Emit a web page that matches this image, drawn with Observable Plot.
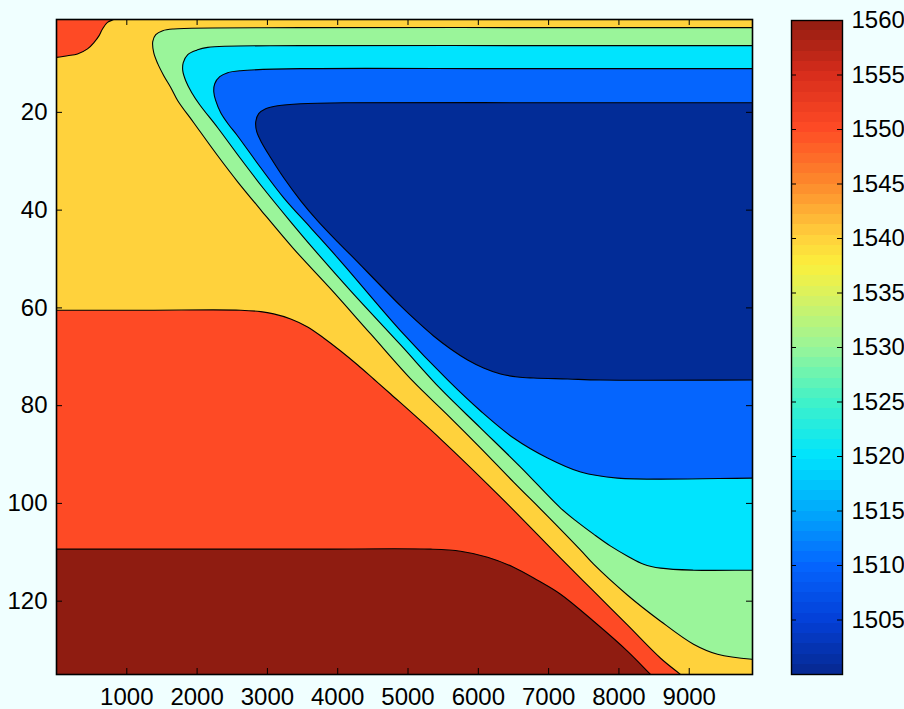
<!DOCTYPE html>
<html>
<head>
<meta charset="utf-8">
<script src="https://cdn.jsdelivr.net/npm/d3@7"></script>
<script src="https://cdn.jsdelivr.net/npm/@observablehq/plot@0.6"></script>
<style>
  html, body { margin: 0; padding: 0; background: #f0ffff; }
  #wrap { position: relative; width: 904px; height: 709px; overflow: hidden; background: #f0ffff; }
  #wrap > svg { position: absolute; top: 0; }
</style>
</head>
<body>
<div id="wrap"></div>
<script>
// ---------- axes ----------
const xDomain = [0, 9900];
const yDomain = [1, 135];
const cbDomain = [1500, 1560];
const xTicks = [1000, 2000, 3000, 4000, 5000, 6000, 7000, 8000, 9000];
const yTicks = [20, 40, 60, 80, 100, 120];
const cbTicks = [1505, 1510, 1515, 1520, 1525, 1530, 1535, 1540, 1545, 1550, 1555, 1560];

// ---------- contour boundaries: [range, depth] ----------
// region > 1545 (top-left patch)
const c1545top = [[-200,8.8],[0,8.74],[156,8.40],[299,8.05],[441,7.02],[535,5.67],[606,4.30],[654,2.93],[725,1.58],[815,1.02],[905,0.46],[905,-3],[-200,-3]];
// region > 1545 (lower-left)
const c1545low = [[-300,60.47],[0,60.47],[1300,60.47],[2620,60.47],[2905,60.76],[3089,61.23],[3331,62.26],[3572,63.89],[3800,66.15],[4042,68.81],[4284,71.68],[4511,74.54],[4753,77.62],[5464,86.83],[6317,98.71],[7170,111.20],[7640,117.96],[8124,124.92],[8593,131.68],[8876,135],[9160,138.3],[9300,145],[9300,160],[-300,160]];
// region > 1555
const c1555 = [[-300,109.36],[0,109.36],[1800,109.36],[3600,109.36],[5322,109.36],[5748,109.77],[6132,111.0],[6502,113.04],[6843,115.71],[7170,118.57],[7640,124.10],[8124,130.25],[8451,135],[8700,138.6],[8850,145],[8850,160],[-300,160]];
// region < 1535
const c1535 = [[10300,2.66],[9900,2.66],[6500,2.66],[3474,2.66],[1668,2.93],[1511,3.28],[1412,4.10],[1369,5.53],[1383,7.78],[1440,10.03],[1526,12.49],[1627,14.95],[1725,17.61],[1952,22.12],[2293,28.88],[2577,34.20],[2905,39.93],[3374,47.92],[3900,56.11],[4469,65.33],[5066,74.95],[5564,81.92],[6033,88.67],[6502,95.64],[6985,102.60],[7455,109.56],[7640,112.43],[8124,118.78],[8593,124.10],[9061,128.81],[9402,130.86],[9900,131.89],[10300,131.95]];
// region < 1525
const c1525 = [[10300,6.35],[9900,6.35],[6500,6.35],[3474,6.35],[2151,6.70],[1995,7.27],[1867,8.19],[1803,9.83],[1796,11.47],[1838,13.52],[1924,15.97],[2037,18.43],[2293,23.14],[2620,29.49],[2947,35.63],[3331,42.39],[3644,47.72],[4184,56.52],[4895,67.58],[5464,76.59],[6033,84.58],[6601,92.57],[7170,100.96],[7412,103.83],[7640,106.29],[7882,108.74],[8124,110.79],[8351,112.43],[8593,113.24],[9061,113.66],[9900,113.66],[10300,113.66]];
// region < 1515
const c1515 = [[10300,11.06],[9900,11.06],[6500,11.06],[3474,11.06],[2620,11.47],[2435,11.88],[2322,12.70],[2251,14.13],[2237,15.77],[2265,17.61],[2336,20.07],[2450,22.53],[2563,24.58],[2905,31.33],[3232,37.48],[3616,43.62],[3999,49.76],[4184,52.84],[4895,64.71],[5578,74.95],[6033,81.10],[6502,86.63],[6985,90.72],[7455,93.59],[7981,94.82],[9900,94.82],[10300,94.82]];
// region < 1505
const c1505 = [[10300,18.02],[9900,18.02],[6500,18.02],[4184,18.02],[3474,18.23],[3146,18.64],[2975,19.25],[2876,20.27],[2834,21.91],[2848,23.96],[2919,26.21],[3047,29.29],[3232,33.38],[3474,38.09],[3715,42.19],[3999,46.49],[4184,49.15],[4895,59.59],[5137,62.87],[5364,65.74],[5606,68.40],[5848,70.65],[6075,72.29],[6317,73.52],[6559,74.13],[6786,74.34],[7270,74.54],[7740,74.75],[9900,74.75],[10300,74.75]];

// ---------- colours ----------
const bandYellow = "#ffd23c";
const regions = [
  {pts: c1545top, fill: "#fe4a25"},
  {pts: c1545low, fill: "#fe4a25"},
  {pts: c1555,    fill: "#8f1c11"},
  {pts: c1535,    fill: "#9af59a"},
  {pts: c1525,    fill: "#00e4fe"},
  {pts: c1515,    fill: "#0565fe"},
  {pts: c1505,    fill: "#022c97"}
];
const cbStops  = [1500, 1505, 1510, 1515, 1520, 1525, 1530, 1535, 1537.5, 1540, 1545, 1550, 1555, 1560];
const cbColors = ["#06288f","#0440d8","#0565fe","#01a9fb","#00e4fd","#40f2c8","#99f599","#dcf25c","#fbf03c","#ffd23c","#fd8a2c","#fe4b25","#d82d1c","#8f1c11"];

const font = "'Liberation Sans', Arial, Helvetica, sans-serif";
const FS = 24;
const mTop = 19, mBottom = 35, mLeft = 56, mRight = 152, W = 904, H = 709;
const frameH = H - mTop - mBottom, frameW = W - mLeft - mRight;

const main = Plot.plot({
  width: W, height: H,
  marginTop: mTop, marginBottom: mBottom, marginLeft: mLeft, marginRight: mRight,
  style: {background: "none", fontFamily: font, fontSize: FS + "px", color: "black"},
  x: {domain: xDomain, axis: null},
  y: {domain: yDomain, reverse: true, axis: null},
  marks: [
    Plot.frame({fill: bandYellow, stroke: "none"}),
    ...regions.map(r => Plot.line(r.pts, {
      x: d => d[0], y: d => d[1], fill: r.fill, stroke: "black",
      strokeWidth: 1.1, curve: "catmull-rom", clip: true
    })),
    Plot.ruleX(xTicks, {x: d => d, insetBottom: frameH - 6, stroke: "black", strokeWidth: 1}),
    Plot.ruleX(xTicks, {x: d => d, insetTop: frameH - 6, stroke: "black", strokeWidth: 1}),
    Plot.ruleY(yTicks, {y: d => d, insetRight: frameW - 6, stroke: "black", strokeWidth: 1}),
    Plot.ruleY(yTicks, {y: d => d, insetLeft: frameW - 6, stroke: "black", strokeWidth: 1}),
    Plot.axisX({ticks: xTicks, anchor: "bottom", tickSize: 0, tickPadding: 13, tickFormat: d => String(d), fontSize: FS, label: null}),
    Plot.axisY({ticks: yTicks, anchor: "left", tickSize: 0, tickPadding: 9, tickFormat: d => String(d), fontSize: FS, label: null}),
    Plot.frame({stroke: "black", strokeWidth: 1.6})
  ]
});
main.style.left = "0px";

// ---------- colour bar ----------
const cbColor = d3.scaleLinear().domain(cbStops).range(cbColors);
const nBands = 64;
const bands = d3.range(nBands).map(i => {
  const lo = cbDomain[0] + i * (cbDomain[1] - cbDomain[0]) / nBands;
  const hi = cbDomain[0] + (i + 1) * (cbDomain[1] - cbDomain[0]) / nBands;
  return {lo, hi, c: cbColor((lo + hi) / 2)};
});
const cbLeft = 770, cbW = 134;
const cbFrameW = 842 - 791;
const cb = Plot.plot({
  width: cbW, height: H,
  marginTop: 20, marginBottom: mBottom, marginLeft: 791 - cbLeft, marginRight: cbW - (842 - cbLeft),
  style: {background: "none", fontFamily: font, fontSize: FS + "px", color: "black"},
  x: {domain: [0, 1], axis: null},
  y: {domain: cbDomain, axis: null},
  color: {type: "identity"},
  marks: [
    Plot.rect(bands, {x1: d => 0, x2: d => 1, y1: "lo", y2: "hi", fill: "c", shapeRendering: "crispEdges"}),
    Plot.ruleY(cbTicks.slice(0, -1), {y: d => d, insetRight: cbFrameW - 5, stroke: "black", strokeWidth: 1}),
    Plot.ruleY(cbTicks.slice(0, -1), {y: d => d, insetLeft: cbFrameW - 5, stroke: "black", strokeWidth: 1}),
    Plot.axisY({ticks: cbTicks, anchor: "right", tickSize: 0, tickPadding: 9, tickFormat: d => String(d), fontSize: FS, label: null}),
    Plot.frame({stroke: "black", strokeWidth: 1.4})
  ]
});
cb.style.left = cbLeft + "px";

const wrap = document.getElementById("wrap");
wrap.appendChild(main);
wrap.appendChild(cb);
</script>
</body>
</html>
